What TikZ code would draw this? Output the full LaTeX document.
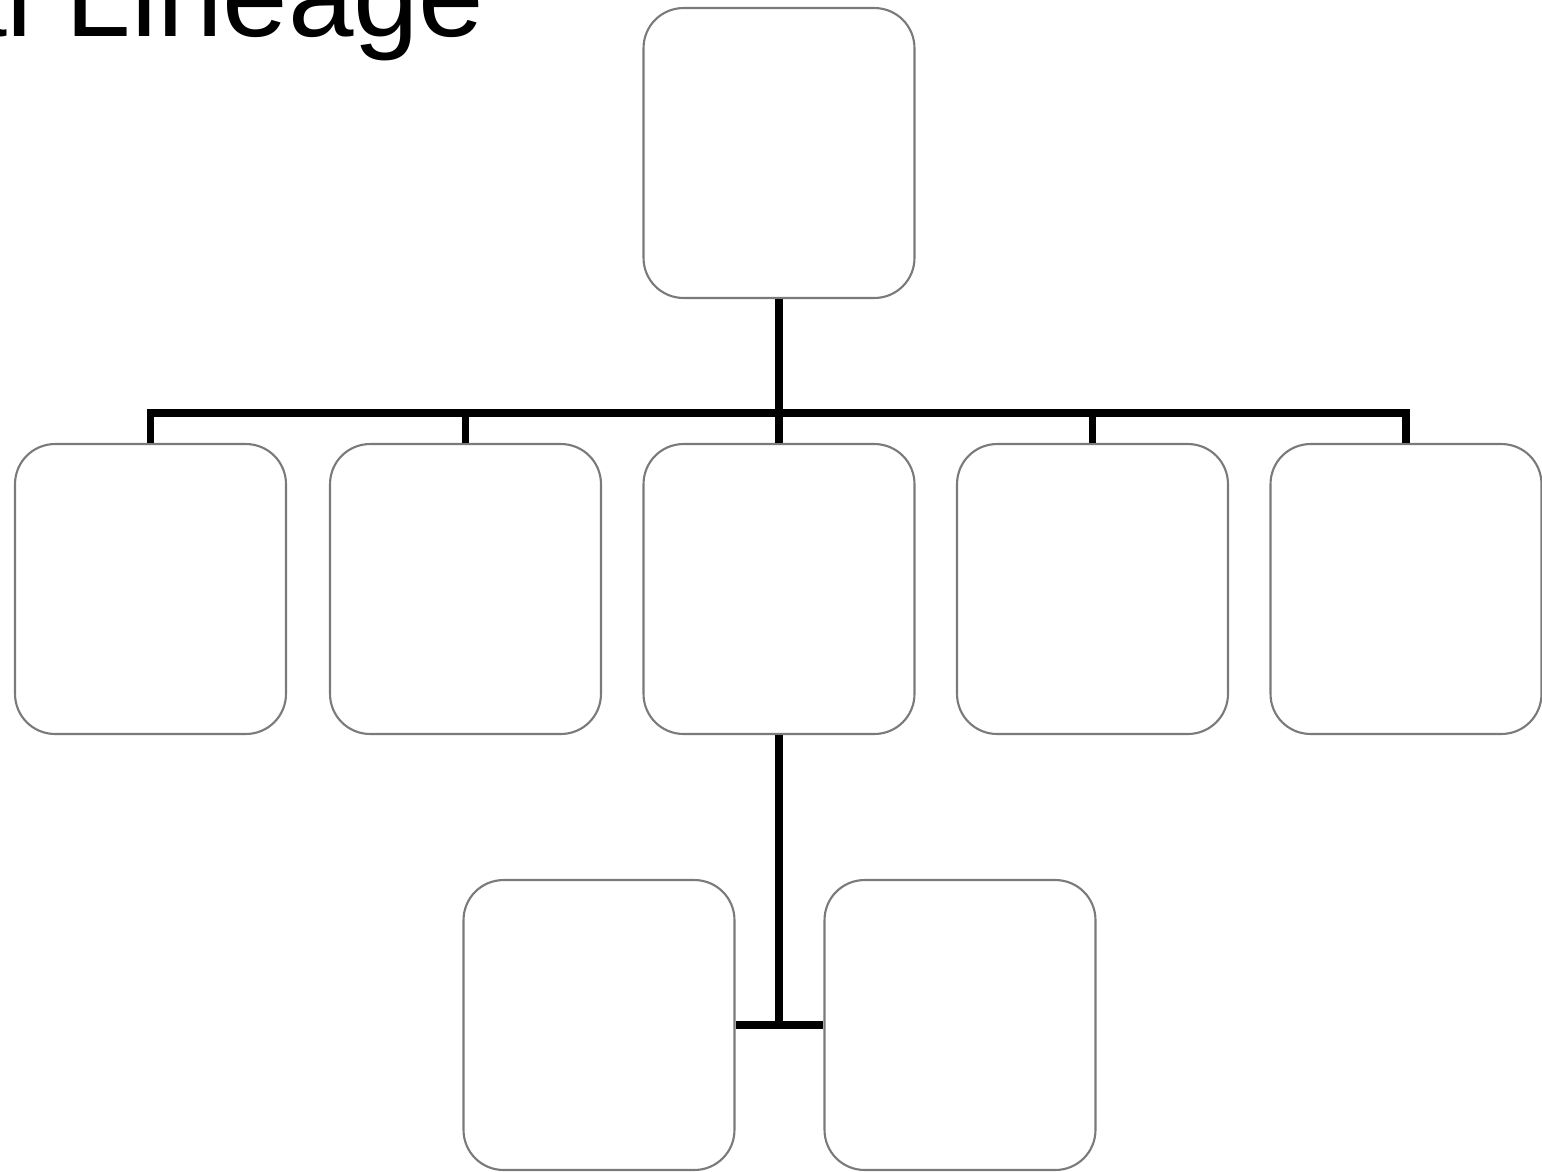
\documentclass[tikz,border=0pt]{standalone}
\usepackage{fontspec}
\setmainfont{Liberation Sans}
\usetikzlibrary{positioning}
\definecolor{ink}{HTML}{000000}
\definecolor{rim}{HTML}{7A7A7A}
\tikzset{every node/.style={font=\normalsize},
  member/.style={draw=rim,line width=1.2pt,rounded corners=0.8cm,fill=white,
    minimum width=5.42cm,minimum height=5.8cm,inner sep=0pt},
  link/.style={draw=ink,line width=4.2pt},
  heading/.style={font=\fontsize{67}{72}\selectfont,inner sep=0pt,anchor=base east}}
\begin{document}
\begin{tikzpicture}[x=0.02cm,y=-0.02cm]
\useasboundingbox(0,0)rectangle(1542,1171);
\node[heading](title)at(485,36){al Lineage};
\node[member](root)at(779,153){};
\foreach \n/\x in {a/150.5,b/465.5,c/779,d/1092.5,e/1406}{\node[member](\n)at(\x,589){};}
\node[member](f)at(599,1025){};\node[member](g)at(960,1025){};
\coordinate(bus)at(root.south|-0,413);
\draw[link](root.south)--(bus);
\foreach \n in {a,b,c,d,e}{\draw[link](\n.north)|-(bus);}
\coordinate(split)at(c.south|-f.east);
\draw[link](c.south)--(split);\draw[link](f.east)--(g.west);
\end{tikzpicture}
\end{document}
